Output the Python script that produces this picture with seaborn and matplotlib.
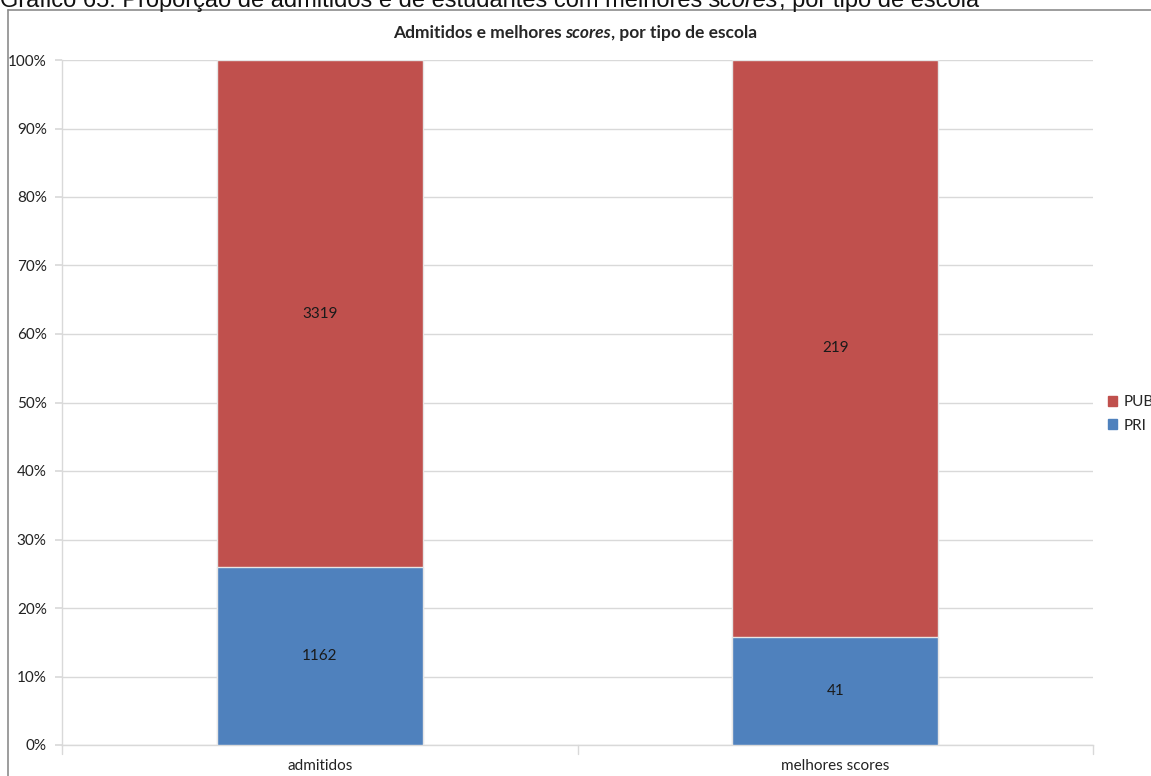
import matplotlib
matplotlib.use("Agg")
import matplotlib.pyplot as plt
import seaborn as sns
import numpy as np
import pandas as pd
from matplotlib.patches import Patch
from matplotlib.lines import Line2D

categories = ["admitidos", "melhores scores"]
pri_counts = [1162, 41]
pub_counts = [3319, 219]
series_names = ["PUB", "PRI"]
yticks = [0, 10, 20, 30, 40, 50, 60, 70, 80, 90, 100]

red = "#C0504D"
blue = "#4F81BD"
grid_col = "#D9D9D9"

pri = np.array(pri_counts, dtype=float)
pub = np.array(pub_counts, dtype=float)
total = pri + pub
df = pd.DataFrame({
    "cat": categories,
    "pri_pct": pri / total * 100,
    "all_pct": (pri + pub) / total * 100,
})

sns.set_theme(style="white")
plt.rcParams["font.family"] = ["Lato", "DejaVu Sans"]

fig = plt.figure(figsize=(11.51, 7.76), dpi=100)
ax = fig.add_axes([62 / 1151, 1 - 745 / 776, (1093 - 62) / 1151, (745 - 60) / 776])

# stacked: full height red (PUB on top), blue PRI on the bottom
sns.barplot(data=df, x="cat", y="all_pct", color=red, saturation=1, width=0.4,
            edgecolor="#E6E6E6", linewidth=1, ax=ax, zorder=3)
sns.barplot(data=df, x="cat", y="pri_pct", color=blue, saturation=1, width=0.4,
            edgecolor="#E6E6E6", linewidth=1, ax=ax, zorder=4)

for i in range(len(categories)):
    p = df["pri_pct"].iloc[i]
    ax.text(i, p / 2, f"{pri_counts[i]}", ha="center", va="center", fontsize=11, color="#1a1a1a", zorder=5)
    ax.text(i, p + (100 - p) / 2, f"{pub_counts[i]}", ha="center", va="center", fontsize=11, color="#1a1a1a", zorder=5)

ax.set_xlim(-0.5, 1.5)
ax.set_ylim(0, 100)
ax.set_yticks(yticks)
ax.set_yticklabels([f"{t}%" for t in yticks], fontsize=11, color="#222222")
ax.set_xticks([0, 1])
ax.set_xticklabels(categories, fontsize=11, color="#222222")
ax.set_xlabel("")
ax.set_ylabel("")
ax.yaxis.grid(True, color=grid_col, linewidth=1)
ax.set_axisbelow(True)
for s in ["top", "right"]:
    ax.spines[s].set_visible(False)
for s in ["left", "bottom"]:
    ax.spines[s].set_color(grid_col)
    ax.spines[s].set_linewidth(1)
ax.tick_params(axis="y", length=5, color=grid_col, left=True, pad=6)
ax.tick_params(axis="x", length=0, pad=10)
# category separator ticks on the x axis
for xb in [-0.5, 0.5, 1.5]:
    ax.plot([xb, xb], [0, -1.3], color=grid_col, lw=1, clip_on=False, zorder=2)

# legend
handles = [Patch(facecolor=red, edgecolor=red), Patch(facecolor=blue, edgecolor=blue)]
leg = fig.legend(handles, series_names, loc="center left", bbox_to_anchor=(1108 / 1151, 1 - 414 / 776),
                 frameon=False, fontsize=11, handlelength=0.6, handleheight=0.6,
                 handletextpad=0.4, labelspacing=0.6, borderaxespad=0, borderpad=0)

# chart frame
fig.add_artist(Line2D([8 / 1151, 8 / 1151], [1 - 10 / 776, -0.01], color="#8C8C8C", lw=1.2,
                      transform=fig.transFigure))
fig.add_artist(Line2D([8 / 1151, 1.01], [1 - 10 / 776, 1 - 10 / 776], color="#8C8C8C", lw=1.2,
                      transform=fig.transFigure))

# title with italic word
fig.canvas.draw()
r = fig.canvas.get_renderer()
parts = [("Admitidos e melhores ", "normal"), ("scores", "italic"), (", por tipo de escola", "normal")]
ty = 1 - 33 / 776
objs = []
for s, st in parts:
    t = fig.text(0, ty, s, fontsize=12.5, fontweight="bold", style=st, va="center", ha="left")
    objs.append(t)
widths = [o.get_window_extent(r).width for o in objs]
x = 575 - sum(widths) / 2
for o, w in zip(objs, widths):
    o.set_x(x / 1151)
    x += w

# caption clipped at the top of the image, as in the source
cap = ["Gráfico 65: Proporção de admitidos e de estudantes com melhores ", "scores", ", por tipo de escola"]
cobjs = []
for i, s in enumerate(cap):
    t = fig.text(0, 1 - 7 / 776, s, fontsize=17, style="italic" if i == 1 else "normal",
                 family="Liberation Sans", va="baseline", ha="left", color="#111111")
    cobjs.append(t)
x = 0
for o in cobjs:
    o.set_x(x / 1151)
    x += o.get_window_extent(r).width

fig.savefig("out.png", dpi=100)
